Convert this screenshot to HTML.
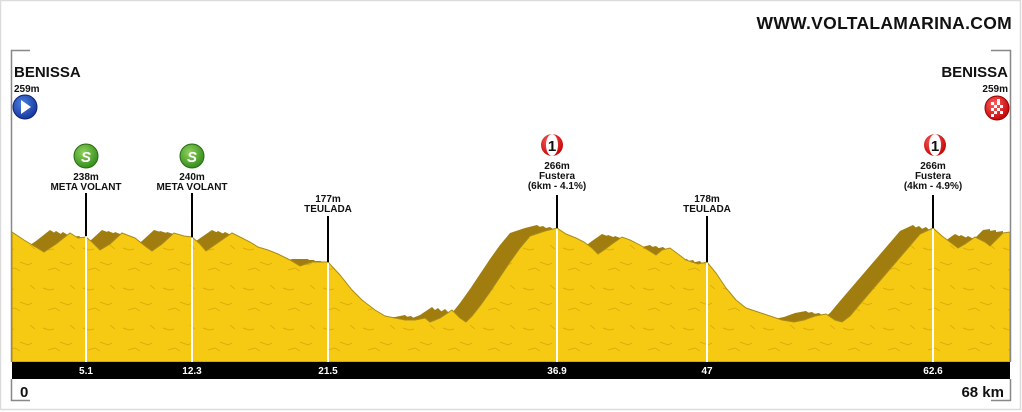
<!DOCTYPE html>
<html><head><meta charset="utf-8"><style>
html,body{margin:0;padding:0;background:#fff;}
svg{display:block;}
text{font-family:"Liberation Sans",Arial,sans-serif;font-weight:bold;fill:#111;}
</style></head><body>
<svg width="1022" height="412" viewBox="0 0 1022 412" xmlns="http://www.w3.org/2000/svg">
<defs>
<pattern id="tex" width="40" height="40" patternUnits="userSpaceOnUse">
<rect width="40" height="40" fill="#f6ca12"/>
<path d="M3 8 l6 2 l5 -1 M20 22 l8 3 l4 -2 M30 5 l5 4 M8 30 l7 -2 l5 3" stroke="#dcae0e" stroke-width="1" fill="none"/>
</pattern>
<radialGradient id="blue" cx="40%" cy="35%" r="70%"><stop offset="0" stop-color="#4a7fe0"/><stop offset="1" stop-color="#15339a"/></radialGradient>
<radialGradient id="green" cx="40%" cy="35%" r="70%"><stop offset="0" stop-color="#8fd25a"/><stop offset="1" stop-color="#2f8a1a"/></radialGradient>
<radialGradient id="red" cx="40%" cy="35%" r="70%"><stop offset="0" stop-color="#ff6060"/><stop offset="1" stop-color="#c00000"/></radialGradient>
<polygon id="prof" points="12,232 24,240 34,246 44,252 56,244 70,233 78,238 86,237 92,242 100,250 110,244 122,233 135,238 145,246 152,251 162,244 174,233 184,236 192,237 200,244 206,251 216,244 232,233 240,237 250,242 258,247 268,250 278,254 290,260 300,266 312,262 328,262 340,275 352,290 362,300 375,310 385,316 395,318 405,320 415,320 425,318 430,322 440,318 452,310 460,318 466,322 472,316 480,306 490,292 500,277 510,262 520,248 530,236 545,231 557,228 566,234 576,238 584,242 592,248 598,254 604,250 612,244 622,237 630,240 640,245 648,250 656,255 662,250 670,248 678,254 686,260 698,264 707,262 716,273 726,288 736,300 746,308 758,312 770,316 782,320 794,322 804,320 815,316 826,314 835,320 842,322 850,316 860,304 872,290 884,276 896,262 908,248 920,234 933,228 942,236 950,242 958,248 965,244 975,237 985,242 990,246 996,240 1003,233 1010,232 1010,362 12,362"/>
<clipPath id="c"><rect x="12" y="0" width="998" height="362"/></clipPath>
</defs>
<rect x="0.5" y="0.5" width="1020" height="409" fill="#fff" stroke="#dcdcdc" stroke-width="1.5"/>
<text x="1012" y="29" text-anchor="end" font-size="17.5" letter-spacing="0.3">WWW.VOLTALAMARINA.COM</text>
<path d="M30 50.5 H11.5 V362 M11.5 379 V400.5 H30 M991 50.5 H1010.5 V362 M1010.5 379 V400.5 H991" stroke="#888" stroke-width="1.5" fill="none"/>
<g clip-path="url(#c)">
<use href="#prof" transform="translate(-20,-3)" fill="#a07d0e"/>
<use href="#prof" transform="translate(-14,-2)" fill="#a07d0e"/>
<use href="#prof" transform="translate(-7,-1)" fill="#a07d0e"/>
<use href="#prof" fill="url(#tex)" stroke="#a98a1a" stroke-width="1"/>
</g>
<g stroke="#fff" stroke-width="2">
<line x1="86" y1="237" x2="86" y2="362"/><line x1="192" y1="238" x2="192" y2="362"/>
<line x1="328" y1="263" x2="328" y2="362"/><line x1="557" y1="229" x2="557" y2="362"/>
<line x1="707" y1="263" x2="707" y2="362"/><line x1="933" y1="229" x2="933" y2="362"/>
</g>
<g stroke="#000" stroke-width="2">
<line x1="86" y1="193" x2="86" y2="236"/><line x1="192" y1="193" x2="192" y2="237"/>
<line x1="328" y1="216" x2="328" y2="262"/><line x1="557" y1="195" x2="557" y2="228"/>
<line x1="707" y1="216" x2="707" y2="262"/><line x1="933" y1="195" x2="933" y2="228"/>
</g>
<rect x="12" y="362" width="998" height="17" fill="#000"/>
<g font-size="10" text-anchor="middle">
<text x="86" y="374" style="fill:#fff">5.1</text><text x="192" y="374" style="fill:#fff">12.3</text>
<text x="328" y="374" style="fill:#fff">21.5</text><text x="557" y="374" style="fill:#fff">36.9</text>
<text x="707" y="374" style="fill:#fff">47</text><text x="933" y="374" style="fill:#fff">62.6</text>
</g>
<text x="20" y="397" font-size="15">0</text>
<text x="1004" y="397" font-size="15" text-anchor="end">68 km</text>
<text x="14" y="77" font-size="15">BENISSA</text>
<text x="14" y="92" font-size="10">259m</text>
<circle cx="25" cy="107" r="12" fill="url(#blue)" stroke="#0d2470" stroke-width="1"/>
<polygon points="21,100 31,107 21,114" fill="#fff"/>
<text x="1008" y="77" font-size="15" text-anchor="end">BENISSA</text>
<text x="1008" y="92" font-size="10" text-anchor="end">259m</text>
<circle cx="997" cy="108" r="12" fill="url(#red)" stroke="#900" stroke-width="1"/>
<g fill="#fff"><rect x="991" y="102" width="3" height="3"/><rect x="997" y="102" width="3" height="3"/><rect x="994" y="105" width="3" height="3"/><rect x="1000" y="105" width="3" height="3"/><rect x="991" y="108" width="3" height="3"/><rect x="997" y="108" width="3" height="3"/><rect x="994" y="111" width="3" height="3"/><rect x="1000" y="111" width="3" height="3"/><rect x="997" y="99" width="3" height="3"/><rect x="991" y="114" width="3" height="3"/></g>
<circle cx="86" cy="156" r="12" fill="url(#green)" stroke="#2a6a12"/>
<text x="86" y="162" font-size="15" text-anchor="middle" style="fill:#fff;font-style:italic">S</text>
<text x="86" y="180" font-size="10" text-anchor="middle">238m</text>
<text x="86" y="190" font-size="10" text-anchor="middle">META VOLANT</text>
<circle cx="192" cy="156" r="12" fill="url(#green)" stroke="#2a6a12"/>
<text x="192" y="162" font-size="15" text-anchor="middle" style="fill:#fff;font-style:italic">S</text>
<text x="192" y="180" font-size="10" text-anchor="middle">240m</text>
<text x="192" y="190" font-size="10" text-anchor="middle">META VOLANT</text>
<text x="328" y="202" font-size="10" text-anchor="middle">177m</text>
<text x="328" y="212" font-size="10" text-anchor="middle">TEULADA</text>
<text x="707" y="202" font-size="10" text-anchor="middle">178m</text>
<text x="707" y="212" font-size="10" text-anchor="middle">TEULADA</text>
<g>
<circle cx="552" cy="145" r="11" fill="url(#red)"/><ellipse cx="552" cy="145" rx="6" ry="11" fill="#fff"/>
<text x="552" y="151" font-size="15" text-anchor="middle">1</text>
<text x="557" y="169" font-size="10" text-anchor="middle">266m</text>
<text x="557" y="179" font-size="10" text-anchor="middle">Fustera</text>
<text x="557" y="189" font-size="10" text-anchor="middle">(6km - 4.1%)</text>
</g>
<g>
<circle cx="935" cy="145" r="11" fill="url(#red)"/><ellipse cx="935" cy="145" rx="6" ry="11" fill="#fff"/>
<text x="935" y="151" font-size="15" text-anchor="middle">1</text>
<text x="933" y="169" font-size="10" text-anchor="middle">266m</text>
<text x="933" y="179" font-size="10" text-anchor="middle">Fustera</text>
<text x="933" y="189" font-size="10" text-anchor="middle">(4km - 4.9%)</text>
</g>
</svg>
</body></html>
